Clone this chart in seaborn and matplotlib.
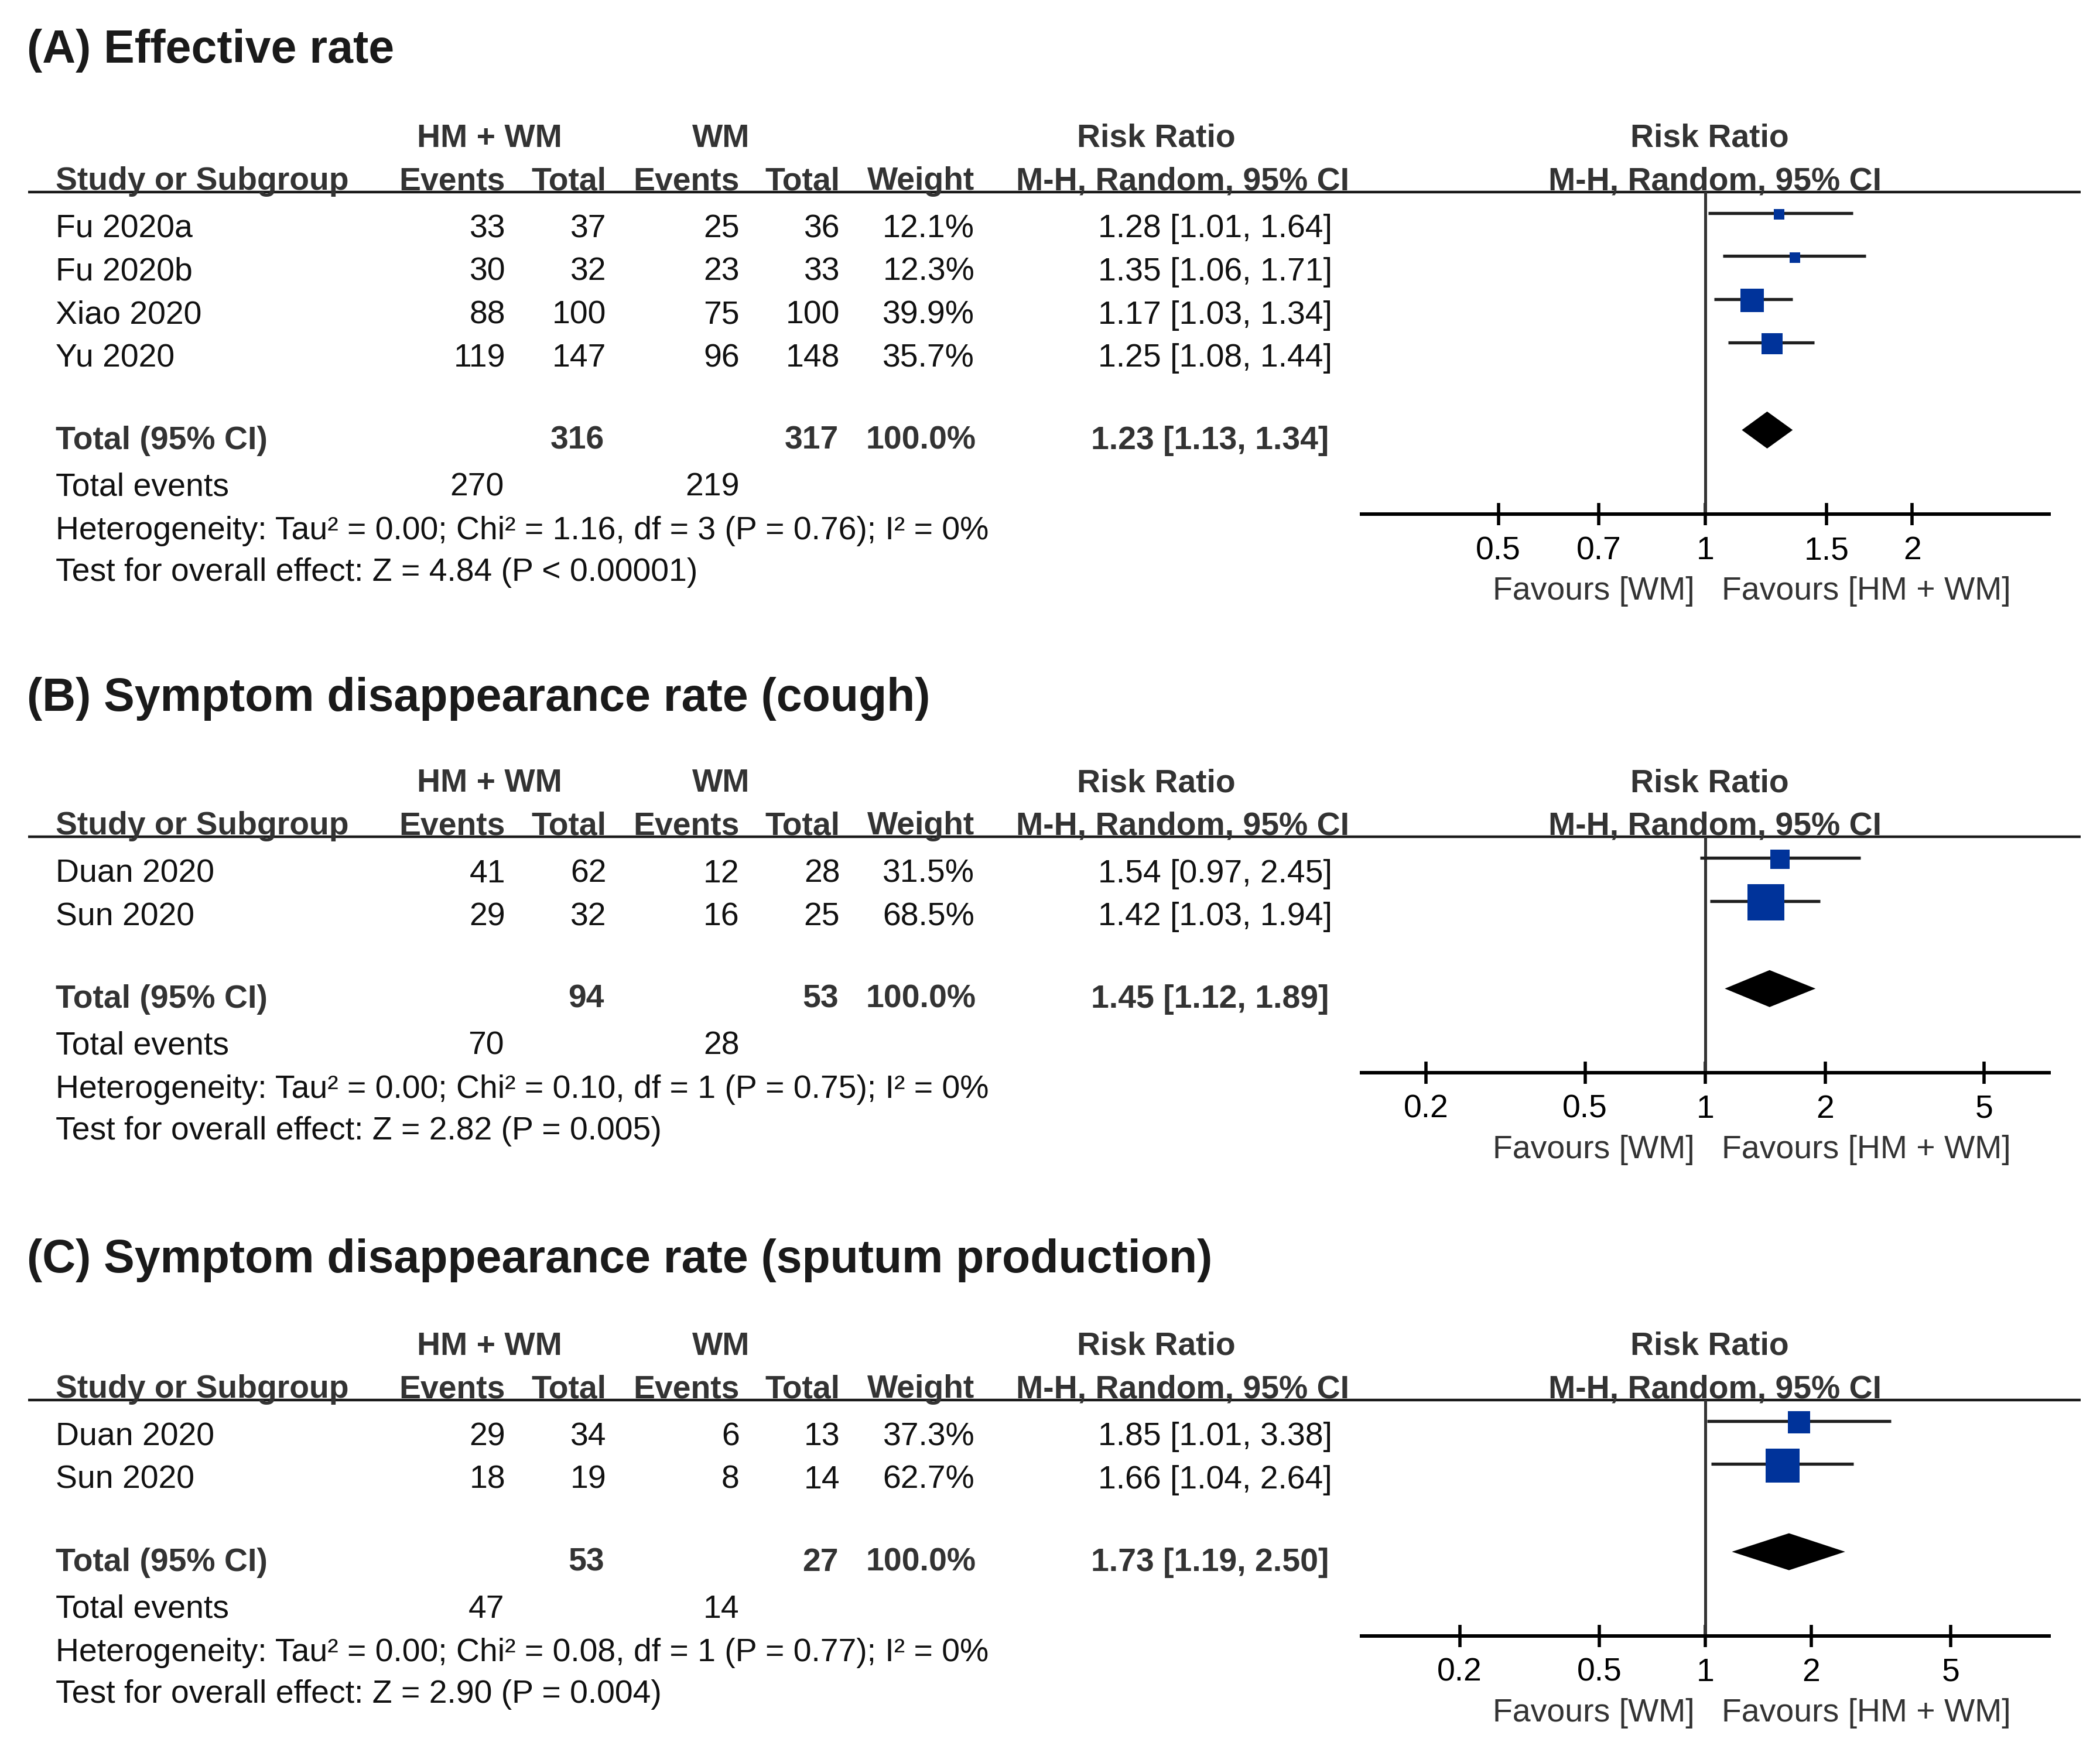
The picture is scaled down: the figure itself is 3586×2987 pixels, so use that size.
import numpy as np
import pandas as pd
import matplotlib
matplotlib.use("Agg")
import matplotlib.pyplot as plt
import seaborn as sns

# ---------------- data ----------------
titles = ["(A) Effective rate",
          "(B) Symptom disappearance rate (cough)",
          "(C) Symptom disappearance rate (sputum production)"]

studies_a = ["Fu 2020a", "Fu 2020b", "Xiao 2020", "Yu 2020"]
hm_events_a = [33, 30, 88, 119]
hm_total_a = [37, 32, 100, 147]
wm_events_a = [25, 23, 75, 96]
wm_total_a = [36, 33, 100, 148]
weight_a = [12.1, 12.3, 39.9, 35.7]
rr_a = [1.28, 1.35, 1.17, 1.25]
lo_a = [1.01, 1.06, 1.03, 1.08]
hi_a = [1.64, 1.71, 1.34, 1.44]
pooled_a = [1.23, 1.13, 1.34]
sum_total_a = [316, 317]
sum_events_a = [270, 219]
het_a = "Heterogeneity: Tau² = 0.00; Chi² = 1.16, df = 3 (P = 0.76); I² = 0%"
test_a = "Test for overall effect: Z = 4.84 (P < 0.00001)"
ticks_a = [0.5, 0.7, 1, 1.5, 2]
ticklabels_a = ["0.5", "0.7", "1", "1.5", "2"]
xlim_a = [0.316, 3.16]

studies_b = ["Duan 2020", "Sun 2020"]
hm_events_b = [41, 29]
hm_total_b = [62, 32]
wm_events_b = [12, 16]
wm_total_b = [28, 25]
weight_b = [31.5, 68.5]
rr_b = [1.54, 1.42]
lo_b = [0.97, 1.03]
hi_b = [2.45, 1.94]
pooled_b = [1.45, 1.12, 1.89]
sum_total_b = [94, 53]
sum_events_b = [70, 28]
het_b = "Heterogeneity: Tau² = 0.00; Chi² = 0.10, df = 1 (P = 0.75); I² = 0%"
test_b = "Test for overall effect: Z = 2.82 (P = 0.005)"
ticks_b = [0.2, 0.5, 1, 2, 5]
ticklabels_b = ["0.2", "0.5", "1", "2", "5"]
xlim_b = [0.1377, 7.26]

studies_c = ["Duan 2020", "Sun 2020"]
hm_events_c = [29, 18]
hm_total_c = [34, 19]
wm_events_c = [6, 8]
wm_total_c = [13, 14]
weight_c = [37.3, 62.7]
rr_c = [1.85, 1.66]
lo_c = [1.01, 1.04]
hi_c = [3.38, 2.64]
pooled_c = [1.73, 1.19, 2.50]
sum_total_c = [53, 27]
sum_events_c = [47, 14]
het_c = "Heterogeneity: Tau² = 0.00; Chi² = 0.08, df = 1 (P = 0.77); I² = 0%"
test_c = "Test for overall effect: Z = 2.90 (P = 0.004)"
ticks_c = [0.2, 0.5, 1, 2, 5]
ticklabels_c = ["0.2", "0.5", "1", "2", "5"]
xlim_c = [0.105, 9.5]

group_labels = ["HM + WM", "WM"]
favours = ["Favours [WM]", "Favours [HM + WM]"]

panels = [
    dict(title=titles[0], df=pd.DataFrame(dict(study=studies_a, he=hm_events_a, ht=hm_total_a,
                                               we=wm_events_a, wt=wm_total_a, w=weight_a,
                                               rr=rr_a, lo=lo_a, hi=hi_a)),
         pooled=pooled_a, tot=sum_total_a, ev=sum_events_a, het=het_a, test=test_a,
         ticks=ticks_a, tl=ticklabels_a, xlim=xlim_a),
    dict(title=titles[1], df=pd.DataFrame(dict(study=studies_b, he=hm_events_b, ht=hm_total_b,
                                               we=wm_events_b, wt=wm_total_b, w=weight_b,
                                               rr=rr_b, lo=lo_b, hi=hi_b)),
         pooled=pooled_b, tot=sum_total_b, ev=sum_events_b, het=het_b, test=test_b,
         ticks=ticks_b, tl=ticklabels_b, xlim=xlim_b),
    dict(title=titles[2], df=pd.DataFrame(dict(study=studies_c, he=hm_events_c, ht=hm_total_c,
                                               we=wm_events_c, wt=wm_total_c, w=weight_c,
                                               rr=rr_c, lo=lo_c, hi=hi_c)),
         pooled=pooled_c, tot=sum_total_c, ev=sum_events_c, het=het_c, test=test_c,
         ticks=ticks_c, tl=ticklabels_c, xlim=xlim_c),
]

# ---------------- layout ----------------
sns.set_theme(style="white")
plt.rcParams["font.family"] = ["Liberation Sans", "DejaVu Sans"]

W, H = 1568.0, 1306.0            # layout units
fig = plt.figure(figsize=(35.87, 29.87), dpi=100)
tab = fig.add_axes([0, 0, 1, 1])
tab.set_xlim(0, W)
tab.set_ylim(H, 0)
tab.axis("off")

FS = 39.9
TFS = 56.8
BODY = "#111111"
HEAD = "#333333"
BLUE = "#00339A"
OFF = 8.7        # digit-centre -> baseline (units)
TOFF = 12.3

title_y = [34.5, 518.5, 938.0]
h1_y = [101.0, 582.5, 1003.0]

X_STUDY = 41.6
X_HE, X_HT, X_WE, X_WT, X_W = 377.3, 452.6, 552.0, 627.0, 727.5
X_RR = 994.5
FX0, FX1 = 1016.2, 1529.4


def txt(x, y, s, ha="left", bold=False, color=BODY, size=FS, off=OFF):
    tab.text(x, y + off, s, ha=ha, va="baseline", fontsize=size,
             fontweight="bold" if bold else "normal", color=color)


for p, ty, h1 in zip(panels, title_y, h1_y):
    df = p["df"]
    txt(20, ty, p["title"], bold=True, color="#1a1a1a", size=TFS, off=TOFF)

    h2 = h1 + 32
    line_y = h1 + 42.5
    txt(365.3, h1, group_labels[0], ha="center", bold=True, color=HEAD)
    txt(538.4, h1, group_labels[1], ha="center", bold=True, color=HEAD)
    txt(863, h1, "Risk Ratio", ha="center", bold=True, color=HEAD)
    txt(1276, h1, "Risk Ratio", ha="center", bold=True, color=HEAD)

    txt(X_STUDY, h2, "Study or Subgroup", bold=True, color=HEAD)
    txt(X_HE, h2, "Events", ha="right", bold=True, color=HEAD)
    txt(X_HT, h2, "Total", ha="right", bold=True, color=HEAD)
    txt(X_WE, h2, "Events", ha="right", bold=True, color=HEAD)
    txt(X_WT, h2, "Total", ha="right", bold=True, color=HEAD)
    txt(X_W, h2, "Weight", ha="right", bold=True, color=HEAD)
    txt(882.8, h2, "M-H, Random, 95% CI", ha="center", bold=True, color=HEAD)
    txt(1280, h2, "M-H, Random, 95% CI", ha="center", bold=True, color=HEAD)
    tab.hlines(line_y, 21, 1553, color="#1a1a1a", lw=3.2)

    rows_y = h1 + 67.5 + 32.2 * np.arange(len(df))
    for (_, r), yy in zip(df.iterrows(), rows_y):
        txt(X_STUDY, yy, r["study"])
        txt(X_HE, yy, f"{int(r['he'])}", ha="right")
        txt(X_HT, yy, f"{int(r['ht'])}", ha="right")
        txt(X_WE, yy, f"{int(r['we'])}", ha="right")
        txt(X_WT, yy, f"{int(r['wt'])}", ha="right")
        txt(X_W, yy, f"{r['w']:.1f}%", ha="right")
        txt(X_RR, yy, f"{r['rr']:.2f} [{r['lo']:.2f}, {r['hi']:.2f}]", ha="right")

    tot_y = rows_y[-1] + 61.5
    txt(X_STUDY, tot_y, "Total (95% CI)", bold=True, color=HEAD)
    txt(X_HT - 1.5, tot_y, f"{p['tot'][0]}", ha="right", bold=True, color=HEAD)
    txt(X_WT - 1, tot_y, f"{p['tot'][1]}", ha="right", bold=True, color=HEAD)
    txt(X_W + 1, tot_y, "100.0%", ha="right", bold=True, color=HEAD)
    pr = p["pooled"]
    txt(X_RR - 2.5, tot_y, f"{pr[0]:.2f} [{pr[1]:.2f}, {pr[2]:.2f}]", ha="right",
        bold=True, color=HEAD)
    txt(X_STUDY, tot_y + 35, "Total events")
    txt(X_HE - 1, tot_y + 35, f"{p['ev'][0]}", ha="right")
    txt(X_WE, tot_y + 35, f"{p['ev'][1]}", ha="right")
    txt(X_STUDY, tot_y + 67.5, p["het"])
    txt(X_STUDY, tot_y + 98.5, p["test"])

    axis_y = tot_y + 57.5
    txt(1265, axis_y + 55, favours[0], ha="right", color=HEAD)
    txt(1285, axis_y + 55, favours[1], ha="left", color=HEAD)

    # ---- forest axes ----
    ax = fig.add_axes([FX0 / W, 1 - axis_y / H, (FX1 - FX0) / W, (axis_y - line_y) / H])
    ax.set_facecolor("none")
    ax.set_xscale("log")
    ax.set_xlim(*p["xlim"])
    ax.set_ylim(axis_y, line_y)
    for s in ["top", "left", "right"]:
        ax.spines[s].set_visible(False)
    ax.spines["bottom"].set_linewidth(4.3)
    ax.spines["bottom"].set_color("black")
    ax.set_yticks([])
    ax.xaxis.set_minor_locator(matplotlib.ticker.NullLocator())
    ax.set_xticks(p["ticks"])
    ax.set_xticklabels(p["tl"])
    ax.tick_params(axis="x", which="major", direction="inout", length=27.6, width=4.0,
                   color="black", labelsize=FS, labelcolor="black", pad=12.5, bottom=True)
    ax.grid(False)
    ax.axvline(1, color="#333333", lw=3.6, zorder=1)

    mark_y = rows_y - 8.5
    fd = df.assign(y=mark_y)
    ax.hlines(fd["y"] - 1.0, fd["lo"], fd["hi"], color="#1f1f1f", lw=3.8, zorder=2)
    side_pts = (8.4 + 0.79 * fd["w"].to_numpy()) * 0.72
    sns.scatterplot(data=fd, x="rr", y="y", marker="s", s=side_pts ** 2, color=BLUE,
                    linewidth=0, ax=ax, zorder=3, legend=False, clip_on=False)
    ax.set_xlabel("")
    ax.set_ylabel("")
    dy = tot_y - 5.5
    hh = 13.8
    ax.fill([pr[1], pr[0], pr[2], pr[0]], [dy, dy - hh, dy, dy + hh], color="black",
            lw=0, zorder=3)
    ax.set_ylim(axis_y, line_y)
    ax.set_xlim(*p["xlim"])

fig.savefig("out.png", dpi=100, facecolor="white")
